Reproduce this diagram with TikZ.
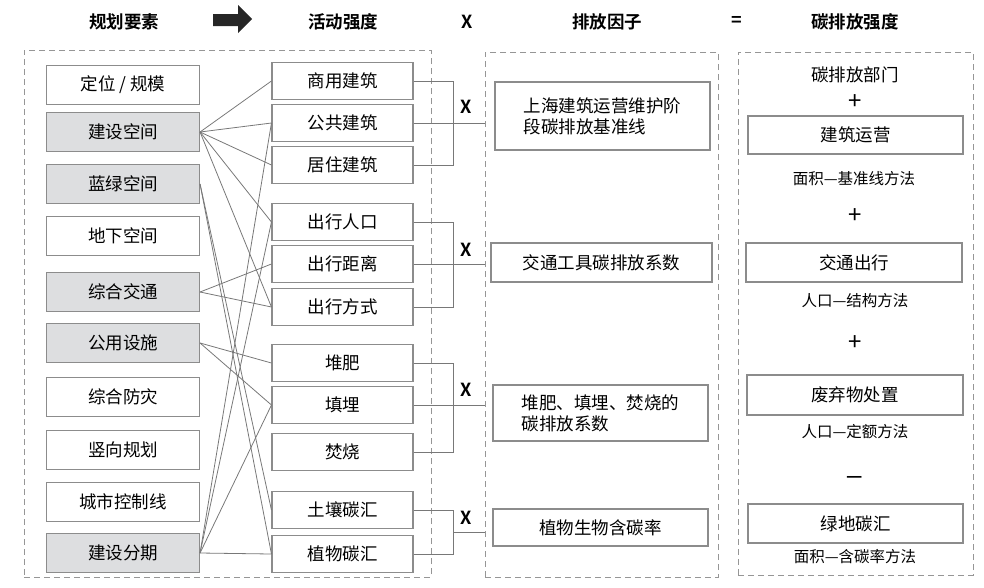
\documentclass[tikz,border=0pt]{standalone}
\usepackage{fontspec}
\setmainfont{Noto Sans CJK SC}[BoldFont={Noto Sans CJK SC Bold}]
\usepackage{xcolor}
\usetikzlibrary{
    positioning,
    calc
}
\definecolor{boxgray}{RGB}{140,140,140}
\definecolor{linegray}{RGB}{120,120,120}
\definecolor{fillgray}{RGB}{221,222,224}
\definecolor{dashgray}{RGB}{150,150,150}

\begin{document}
\begin{tikzpicture}[x=1pt,y=-1pt,semithick]
    \tikzstyle{every node}=[font=\fontsize{17.5}{21}\selectfont, inner sep=0pt]
    \tikzstyle{elembox}=[draw=boxgray, line width=1.1pt, fill=white, minimum width=153pt, minimum height=39pt]
    \tikzstyle{keybox}=[elembox, fill=fillgray]
    \tikzstyle{actbox}=[elembox, minimum width=141pt, minimum height=37pt]
    \tikzstyle{facbox}=[elembox, minimum width=215pt]
    \tikzstyle{sumbox}=[elembox, minimum width=215pt]
    \tikzstyle{zonebox}=[draw=dashgray, line width=1pt, dash pattern=on 6pt off 4pt]
    \tikzstyle{headtxt}=[font=\fontsize{17.5}{21}\selectfont\bfseries]
    \tikzstyle{opmark}=[font=\fontsize{18}{20}\selectfont\bfseries]
    \tikzstyle{plusmark}=[font=\fontsize{24}{24}\selectfont]
    \tikzstyle{notetxt}=[font=\fontsize{15.5}{18}\selectfont]
    \tikzstyle{link}=[draw=linegray, line width=0.8pt]
    \useasboundingbox (0, 0) rectangle (984, 587);

    \node [headtxt] (h1) at (124, 22) {规划要素};
    \node [headtxt] (h2) at (343, 22) {活动强度};
    \node [opmark] (h3) at (467, 22) {X};
    \node [opmark] (h5) at (737, 21) {=};
    \node [headtxt] (h4) at (607, 22) {排放因子};
    \node [headtxt] (h6) at (855, 22) {碳排放强度};
    \fill [black!85] (213, 14) -- (238, 14) -- (238, 5) -- (252, 19) -- (238, 33) -- (238, 26) -- (213, 26) -- cycle;

    \node [zonebox, minimum width=407pt, minimum height=527pt] (z1) at (227.5, 313.5) {};
    \node [zonebox, minimum width=233pt, minimum height=525pt] (z2) at (601.5, 314.5) {};
    \node [zonebox, minimum width=235pt, minimum height=523pt] (z3) at (855.5, 313.5) {};

    \node [elembox] (p1) at (123, 85) {定位 / 规模};
    \node [keybox] (p2) at (123, 132) {建设空间};
    \node [keybox] (p3) at (123, 184) {蓝绿空间};
    \node [elembox] (p4) at (123, 236) {地下空间};
    \node [keybox] (p5) at (123, 292) {综合交通};
    \node [keybox] (p6) at (123, 343) {公用设施};
    \node [elembox] (p7) at (123, 397) {综合防灾};
    \node [elembox] (p8) at (123, 450) {竖向规划};
    \node [elembox] (p9) at (123, 502) {城市控制线};
    \node [keybox] (p10) at (123, 553) {建设分期};

    \node [actbox] (a1) at (342.5, 81) {商用建筑};
    \node [actbox] (a2) at (342.5, 123) {公共建筑};
    \node [actbox] (a3) at (342.5, 165) {居住建筑};
    \node [actbox] (a4) at (342.5, 222) {出行人口};
    \node [actbox] (a5) at (342.5, 264) {出行距离};
    \node [actbox] (a6) at (342.5, 307) {出行方式};
    \node [actbox] (a7) at (342.5, 363) {堆肥};
    \node [actbox] (a8) at (342.5, 405) {填埋};
    \node [actbox] (a9) at (342.5, 452) {焚烧};
    \node [actbox] (a10) at (342.5, 510) {土壤碳汇};
    \node [actbox] (a11) at (342.5, 554) {植物碳汇};

    \node [facbox, minimum height=68pt, align=left] (f1) at (602.5, 116) {上海建筑运营维护阶\\段碳排放基准线};
    \node [facbox, minimum width=221pt] (f2) at (601.5, 262.5) {交通工具碳排放系数};
    \node [facbox, minimum height=56pt, align=left] (f3) at (600.5, 413) {堆肥、填埋、焚烧的\\碳排放系数};
    \node [facbox, minimum height=37pt] (f4) at (600.5, 527.5) {植物生物含碳率};

    \node [opmark] (x1) at (466, 107) {X};
    \node [opmark] (x2) at (466, 250) {X};
    \node [opmark] (x3) at (466, 390) {X};
    \node [opmark] (x4) at (466, 518) {X};

    \node (s0) at (855, 75) {碳排放部门};
    \node [plusmark] (o1) at (855, 102) {+};
    \node [sumbox, minimum height=38pt] (e1) at (855.5, 135) {建筑运营};
    \node [notetxt] (n1) at (854, 179) {面积—基准线方法};
    \node [plusmark] (o2) at (855, 216) {+};
    \node [sumbox, minimum width=216pt] (e2) at (854, 262.5) {交通出行};
    \node [notetxt] (n2) at (855, 301) {人口—结构方法};
    \node [plusmark] (o3) at (855, 343) {+};
    \node [sumbox, minimum width=216pt, minimum height=40pt] (e3) at (855, 395) {废弃物处置};
    \node [notetxt] (n3) at (855, 432) {人口—定额方法};
    \node [opmark] (o4) at (855, 479) {—};
    \node [sumbox] (e4) at (855.5, 523.5) {绿地碳汇};
    \node [notetxt] (n4) at (855, 557) {面积—含碳率方法};

    \draw [link] (p2.east) -- (a1.west);
    \draw [link] (p2.east) -- (a2.west);
    \draw [link] (p2.east) -- (a3.west);
    \draw [link] (p2.east) -- (a4.west);
    \draw [link] (p2.east) -- (a6.west);
    \draw [link] (p3.east) -- (a10.west);
    \draw [link] (p3.east) -- (a11.west);
    \draw [link] (p5.east) -- (a5.west);
    \draw [link] (p5.east) -- (a6.west);
    \draw [link] (p6.east) -- (a7.west);
    \draw [link] (p6.east) -- (a8.west);
    \draw [link] (p10.east) -- (a2.west);
    \draw [link] (p10.east) -- (a4.west);
    \draw [link] (p10.east) -- (a8.west);
    \draw [link] (p10.east) -- (a11.west);

    \coordinate (jt) at (453, 0);
    \coordinate (m4) at ($(a10.east)!0.5!(a11.east)$);
    \draw [link] (a1.east) -- (a1.east -| jt) -- (a3.east -| jt) -- (a3.east);
    \draw [link] (a2.east) -- (a2.east -| z2.west);
    \draw [link] (a4.east) -- (a4.east -| jt) -- (a6.east -| jt) -- (a6.east);
    \draw [link] (a5.east) -- (a5.east -| z2.west);
    \draw [link] (a7.east) -- (a7.east -| jt) -- (a9.east -| jt) -- (a9.east);
    \draw [link] (a8.east) -- (a8.east -| z2.west);
    \draw [link] (a10.east) -- (a10.east -| jt) -- (a11.east -| jt) -- (a11.east);
    \draw [link] (m4 -| jt) -- (m4 -| z2.west);
\end{tikzpicture}
\end{document}
